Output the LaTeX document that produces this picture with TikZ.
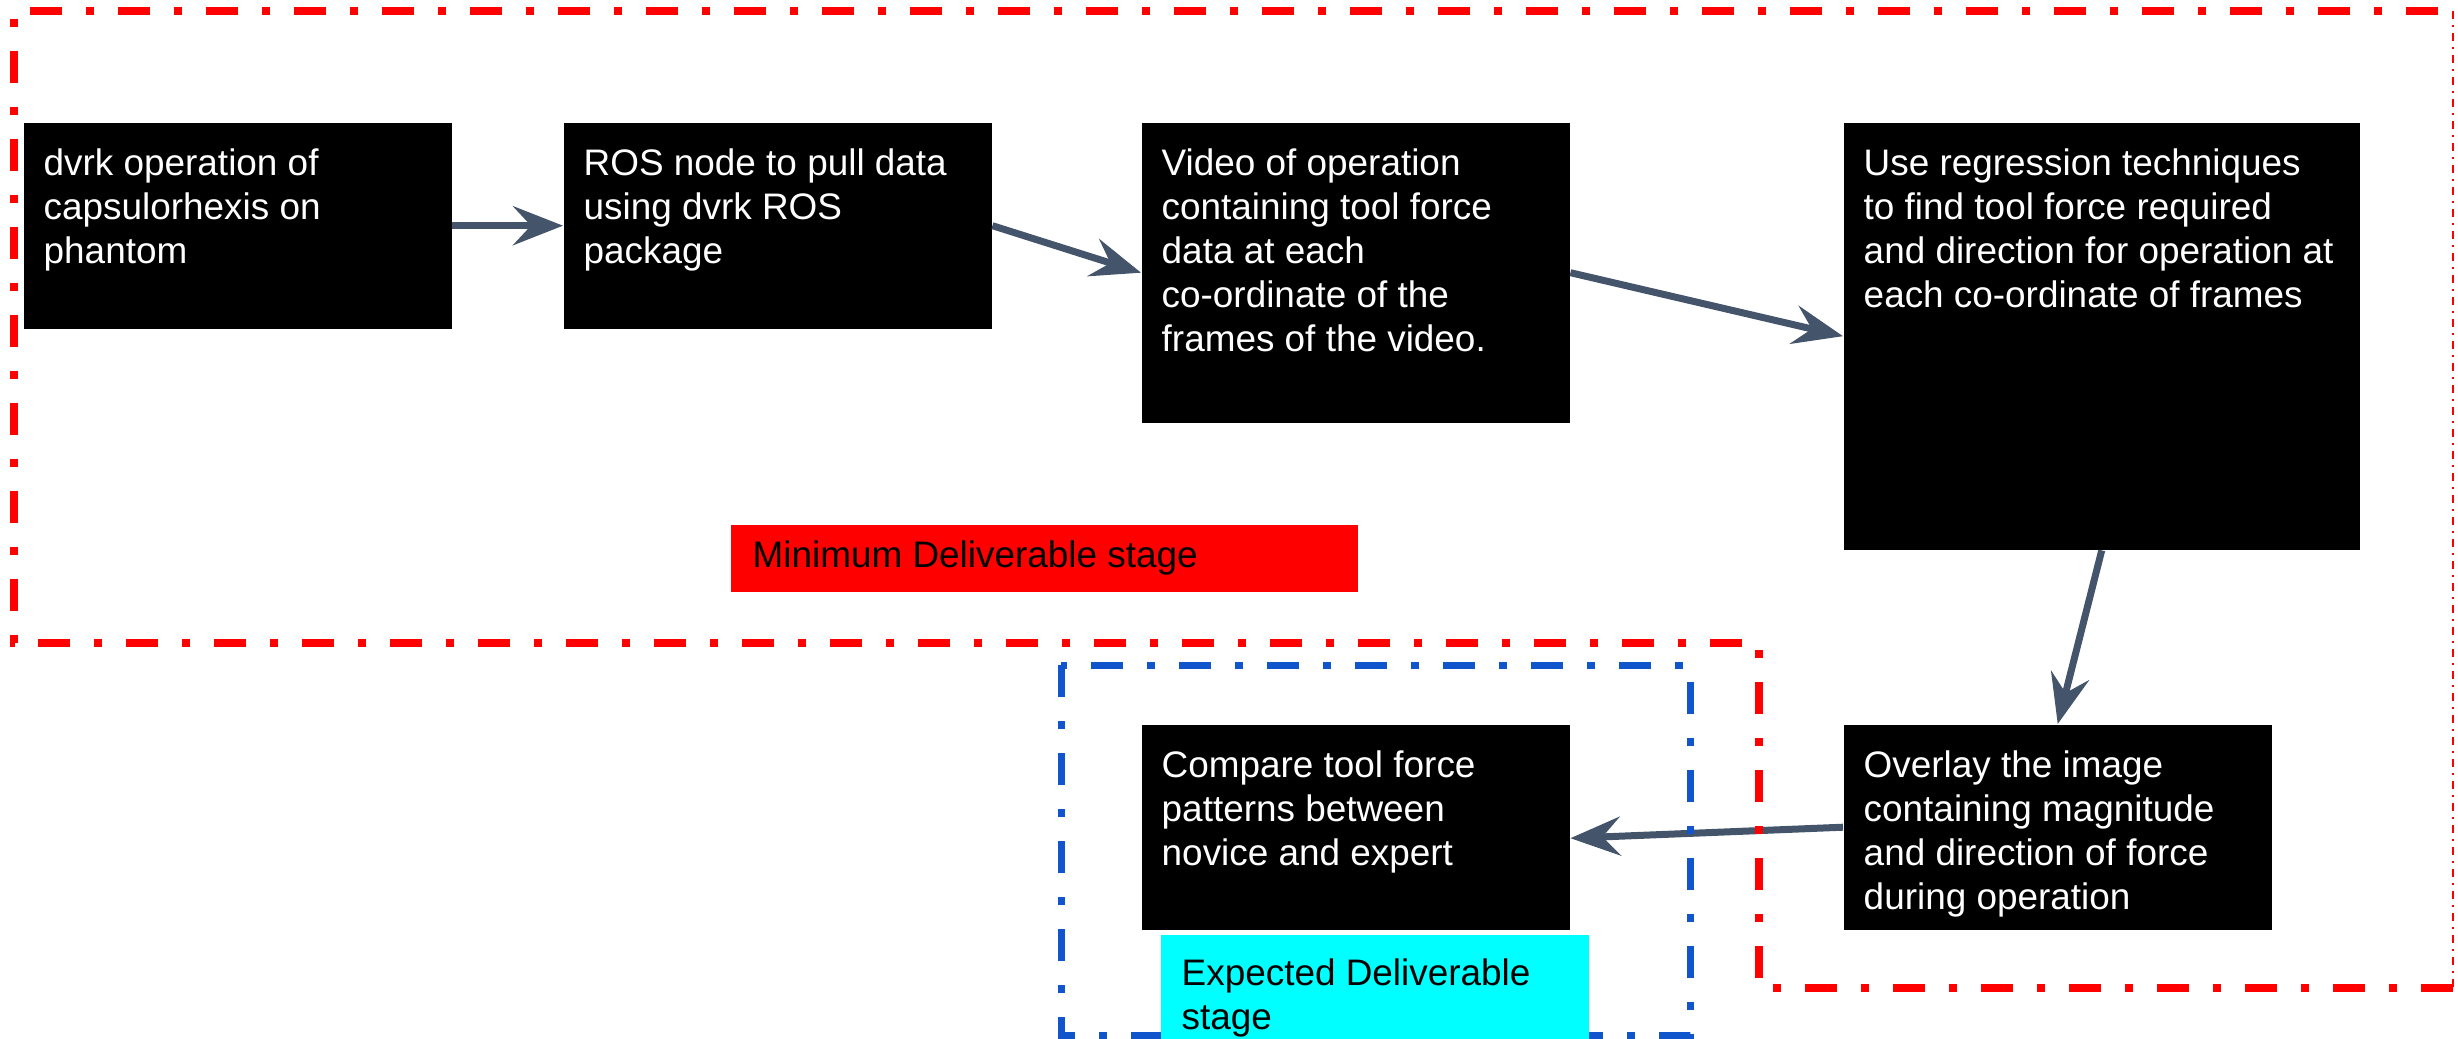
\documentclass[tikz,border=0pt]{standalone}
\usepackage{fontspec}
\setmainfont{Liberation Sans}
\usetikzlibrary{positioning,arrows.meta}
\definecolor{arrowgray}{HTML}{44546A}
\definecolor{stageblue}{HTML}{1155CC}
\definecolor{stagered}{HTML}{FF0000}
\definecolor{stagecyan}{HTML}{00FFFF}
\tikzset{
  blk/.style={fill=black, inner sep=0pt, anchor=north west},
  blktext/.style={text=white, inner sep=0pt, align=left, font=\fontsize{10.5}{12.5}\selectfont},
  labtext/.style={text=black, inner sep=0pt, align=left, font=\fontsize{10.5}{12.5}\selectfont},
  flow/.style={draw=arrowgray, line width=0.7mm, -{Stealth[length=5mm,width=3.9mm,inset=1.8mm]}},
  reddash/.style={draw=stagered, line width=0.8mm, dash pattern=on 3.2mm off 2.4mm on 0.8mm off 2.4mm},
  bluedash/.style={draw=stageblue, line width=0.7mm, dash pattern=on 3.2mm off 2.4mm on 0.8mm off 2.4mm},
}
\begin{document}
\begin{tikzpicture}[x=0.1mm,y=-0.1mm]
\useasboundingbox (0,0) rectangle (2458,1039);
\node[blk, minimum width=42.8mm, minimum height=20.6mm] (dvrk) at (23,122) {};
\node[blk, minimum width=42.8mm, minimum height=20.6mm] (rosnode) at (563,122) {};
\node[blk, minimum width=42.8mm, minimum height=30.0mm] (video) at (1141,122) {};
\node[blk, minimum width=51.6mm, minimum height=42.7mm] (regress) at (1843,122) {};
\node[blk, minimum width=42.8mm, minimum height=20.5mm] (overlay) at (1843,724) {};
\node[blk, minimum width=42.8mm, minimum height=20.5mm] (compare) at (1141,724) {};
\node[blktext, below right=2.6mm and 2mm of dvrk.north west] (dvrk-t) {dvrk operation of\\capsulorhexis on\\phantom};
\node[blktext, below right=2.6mm and 2mm of rosnode.north west] (rosnode-t) {ROS node to pull data\\using dvrk ROS\\package};
\node[blktext, below right=2.6mm and 2mm of video.north west] (video-t) {Video of operation\\containing tool force\\data at each\\co-ordinate of the\\frames of the video.};
\node[blktext, below right=2.6mm and 2mm of regress.north west] (regress-t) {Use regression techniques\\to find tool force required\\and direction for operation at\\each co-ordinate of frames};
\node[blktext, below right=2.6mm and 2mm of overlay.north west] (overlay-t) {Overlay the image\\containing magnitude\\and direction of force\\during operation};
\node[blktext, below right=2.6mm and 2mm of compare.north west] (compare-t) {Compare tool force\\patterns between\\novice and expert};
\node[fill=stagered, inner sep=0pt, anchor=north west, minimum width=62.7mm, minimum height=6.7mm] (minstage) at (730,524) {};
\node[labtext, right=2.2mm of minstage.west] (minstage-t) {Minimum Deliverable stage};
\draw[flow] (dvrk.east) -- (rosnode.west);
\draw[flow] (rosnode.east) -- (video.west);
\draw[flow] (video.east) -- (regress.west);
\draw[flow] (regress.south) -- (overlay.north);
\draw[flow] (overlay.west) -- ([yshift=-1.1mm]compare.east);
\draw[reddash] (2453,988) -- (1759,988) -- (1759,643) -- (14,643) -- (14,11) -- (2453,11);
\draw[stagered, line width=0.2mm, dash pattern=on 0.8mm off 0.6mm on 0.2mm off 0.6mm] (2453,11) -- (2453,988);
\draw[bluedash] (1061,665) rectangle (1690,1035);
\node[fill=stagecyan, inner sep=0pt, anchor=north west, minimum width=42.8mm, minimum height=11.5mm] (expstage) at (1160,934) {};
\node[labtext, below right=2.4mm and 2.1mm of expstage.north west] (expstage-t) {Expected Deliverable\\stage};
\end{tikzpicture}
\end{document}
